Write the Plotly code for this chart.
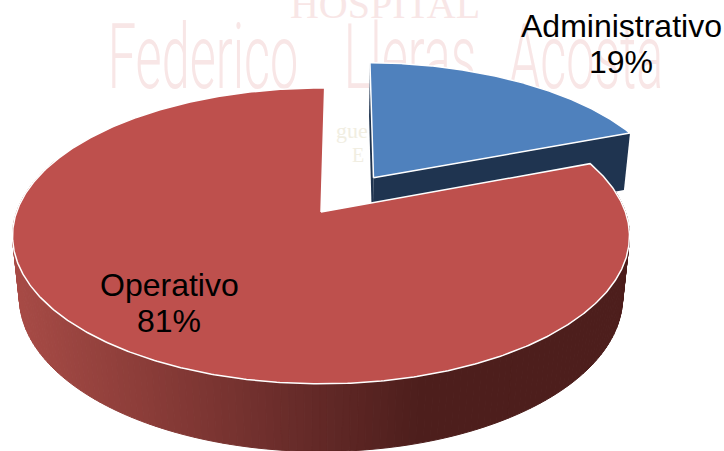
import numpy as np
import plotly.graph_objects as go

categories = ["Administrativo", "Operativo"]
values = [19, 81]
slice_colors = ["#4F81BD", "#BE504D"]
cut_color = "#1F3450"
label_xy = [(621, 26), (169, 285)]
LINE_GAP = 36

# Projection of the tilted disc on the page
CX, CY, BX, AY, K = 321, 212, 304.4, 144, 0.162
DEPTH, SHRINK = 62, 0.022
START_DEG = 0.8
EXPLODE = 0.305

def project(u, v, low=False):
    u, v = np.asarray(u, float), np.asarray(v, float)
    if low:
        f = 1 / (1 + K * v + SHRINK)
        return CX + BX * u * f, CY + (-AY * v + DEPTH) * f
    f = 1 / (1 + K * v)
    return CX + BX * u * f, CY - AY * v * f

fracs = np.array(values, float) / sum(values)
a0 = np.radians(START_DEG)
a1 = a0 + 2 * np.pi * fracs[0]
a2 = a0 + 2 * np.pi
mid = (a0 + a1) / 2 + np.radians(1)
du, dv = EXPLODE * np.sin(mid), EXPLODE * np.cos(mid)

def arc(t0, t1, n=240, ou=0.0, ov=0.0):
    t = np.linspace(t0, t1, n)
    return ou + np.sin(t), ov + np.cos(t)

def poly(x, y, fill, line=None, width=0):
    return go.Scatter(x=list(x), y=list(y), mode="lines", fill="toself", fillcolor=fill,
                      line=dict(color=line or fill, width=width), hoverinfo="skip", showlegend=False)

fig = go.Figure()

# Faint watermark behind the pie
PINK = "#F8E6E6"
watermark = [
    ("HOSPITAL", 385, 8, 40, "Liberation Serif", PINK),
    ("Federico", 203, 65, 90, "Roboto", PINK),
    ("Lleras", 410, 65, 90, "Roboto", PINK),
    ("Acosta", 586, 65, 90, "Roboto", PINK),
    ("gue", 352, 132, 22, "Liberation Serif", "#F1EEE2"),
    ("E", 358, 157, 20, "Liberation Serif", "#F1EEE2"),
]
for txt, x, y, size, fam, col in watermark:
    fig.add_trace(go.Scatter(x=[x], y=[y], mode="text", text=[txt], textposition="middle center",
                             textfont=dict(family=fam, size=size, color=col, weight=300 if fam == "Roboto" else 400),
                             hoverinfo="skip", showlegend=False))

# Exploded slice: cut faces, then top
for t in (a0, a1):
    xt, yt = project([du, du + np.sin(t)], [dv, dv + np.cos(t)])
    xb, yb = project([du, du + np.sin(t)], [dv, dv + np.cos(t)], low=True)
    fig.add_trace(poly(np.r_[xt, xb[::-1], xt[0]], np.r_[yt, yb[::-1], yt[0]], cut_color))
u, v = arc(a0, a1, ou=du, ov=dv)
x, y = project(np.r_[du, u, du], np.r_[dv, v, dv])
fig.add_trace(poly(x, y, slice_colors[0], "#FFFFFF", 1.5))

# Outer wall of the large slice, shaded left to right
stops_x = [15, 150, 290, 420, 640]
stops_rgb = np.array([[168, 75, 70], [138, 60, 56], [105, 44, 42], [77, 30, 28], [77, 30, 28]])
edges = np.linspace(a1 + 0.03, np.radians(292), 181)
for t0, t1 in zip(edges[:-1][::-1], edges[1:][::-1]):
    uu, vv = arc(t0, t1, 5)
    xt, yt = project(uu, vv)
    xb, yb = project(uu, vv, low=True)
    xm = (xt.mean() + xb.mean()) / 2
    rgb = [int(round(np.interp(xm, stops_x, stops_rgb[:, i]))) for i in range(3)]
    col = f"rgb({rgb[0]},{rgb[1]},{rgb[2]})"
    fig.add_trace(poly(np.r_[xt, xb[::-1], xt[0]], np.r_[yt, yb[::-1], yt[0]], col, col, 1))

# Top of the large slice
u, v = arc(a1, a2, 600)
x, y = project(np.r_[0, u, 0], np.r_[0, v, 0])
fig.add_trace(poly(x, y, slice_colors[1], "#FFFFFF", 1.5))

for cat, val, (lx, ly) in zip(categories, values, label_xy):
    for i, line in enumerate((cat, f"{val}%")):
        fig.add_annotation(x=lx, y=ly + i * LINE_GAP, text=line, showarrow=False,
                           font=dict(family="Liberation Sans", size=32, color="#000000"),
                           xanchor="center", yanchor="middle")

fig.update_layout(width=724, height=451, margin=dict(l=0, r=0, t=0, b=0),
                  paper_bgcolor="#FFFFFF", plot_bgcolor="#FFFFFF", showlegend=False,
                  xaxis=dict(range=[0, 724], visible=False, fixedrange=True),
                  yaxis=dict(range=[451, 0], visible=False, fixedrange=True))

# Page margin off; the watermark's three big words are a condensed face, so narrow them
post = """
document.documentElement.style.margin='0';document.body.style.margin='0';
document.querySelectorAll('.textpoint text').forEach(function(t){
  if(['Federico','Lleras','Acosta'].indexOf(t.textContent)<0)return;
  var x=parseFloat(t.getAttribute('x'));
  t.setAttribute('transform','translate('+x+',0) scale(0.56,1) translate('+(-x)+',0)');
});
"""
fig.write_html("out.html", config={"displayModeBar": False}, post_script=post)
